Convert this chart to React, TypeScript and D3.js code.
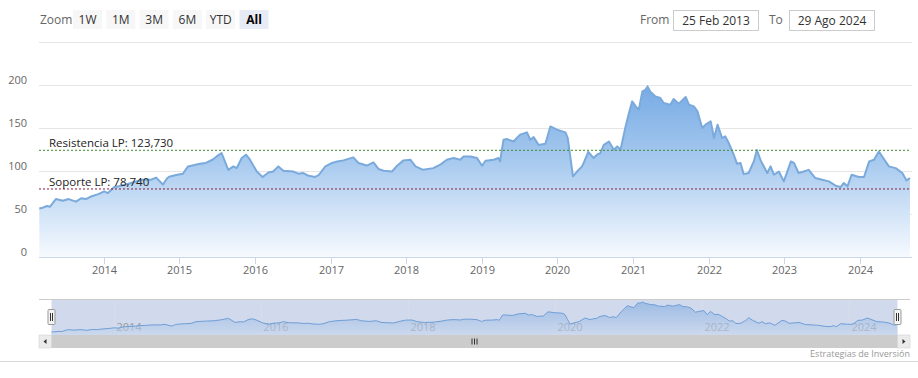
import React from 'react';
import * as d3 from 'd3';

const dates: string[] = [
  '2013-02-25','2013-03-14','2013-04-03','2013-04-17','2013-05-16','2013-06-18','2013-07-17','2013-08-21','2013-09-15','2013-10-08','2013-11-02','2013-12-10',
  '2014-01-04','2014-01-22','2014-02-22','2014-03-16','2014-04-19','2014-06-07','2014-07-09','2014-08-18','2014-09-12','2014-10-15','2014-11-03','2014-11-14','2014-12-17',
  '2015-01-19','2015-02-13','2015-03-22','2015-04-11','2015-05-10','2015-06-13','2015-07-01','2015-07-25','2015-08-26','2015-09-20','2015-10-06','2015-10-30','2015-11-20','2015-12-09',
  '2016-01-11','2016-02-08','2016-03-07','2016-03-30','2016-04-24','2016-05-18','2016-07-06','2016-07-29','2016-08-23','2016-09-17','2016-10-19','2016-11-05','2016-12-07',
  '2017-01-08','2017-02-02','2017-03-04','2017-04-21','2017-05-15','2017-06-25','2017-07-27','2017-08-20','2017-09-14','2017-10-24','2017-11-18','2017-12-19',
  '2018-01-21','2018-02-15','2018-03-24','2018-05-12','2018-06-14','2018-07-16','2018-08-18','2018-09-19','2018-10-05','2018-11-07','2018-12-09',
  '2019-01-02','2019-01-19','2019-02-28','2019-03-22','2019-03-30','2019-04-16','2019-05-02','2019-06-03','2019-07-05','2019-08-07','2019-08-23','2019-09-08','2019-10-02','2019-11-04','2019-11-28','2019-12-30',
  '2020-02-09','2020-02-20','2020-03-03','2020-03-16','2020-04-05','2020-04-29','2020-05-10','2020-05-29','2020-06-24','2020-07-10','2020-07-26','2020-08-12','2020-09-06','2020-09-29','2020-10-16','2020-11-01','2020-11-25','2020-12-11','2020-12-27',
  '2021-01-13','2021-01-28','2021-02-14','2021-03-01','2021-03-11','2021-03-24','2021-04-18','2021-05-12','2021-05-28','2021-06-29','2021-07-15','2021-08-09','2021-09-11','2021-09-27','2021-10-21','2021-11-07','2021-11-30','2021-12-16',
  '2022-01-10','2022-01-26','2022-02-12','2022-03-06','2022-03-21','2022-04-07','2022-05-01','2022-05-17','2022-06-03','2022-06-18','2022-07-12','2022-08-06','2022-08-21','2022-09-08','2022-10-10','2022-10-26','2022-11-11','2022-12-05','2022-12-29',
  '2023-02-01','2023-02-16','2023-03-10','2023-04-04','2023-04-28','2023-05-30','2023-07-02','2023-08-03','2023-09-05','2023-09-29','2023-10-15','2023-11-01','2023-11-21','2023-12-26',
  '2024-01-20','2024-02-14','2024-03-08','2024-04-01','2024-04-25','2024-05-19','2024-06-21','2024-07-23','2024-08-12','2024-08-29',
];

const prices: number[] = [
  56,57,59,58,67,65,67,64,68,67,70,73,
  76,74,81,82,84,87.5,89.5,89.5,92,84,91,93,95,
  96.5,105,107,108,109,113,116.6,120.5,101,105,103,114.7,118.6,112.8,
  99,92.7,98,99,105,100,99,96.5,97.3,94,92.7,95,105,
  109,110.8,112,115.5,109,106,109.6,102,100,99,105.8,112,
  112.8,105,101,103,107,112.8,114.7,112.8,116.6,116.6,114.7,
  105.8,111.6,112.8,114.7,110.8,136,136.8,134,141.9,144.6,136,139,130,131.4,151.5,147.7,
  144.6,138,116.6,93.4,99,105,110.8,122,114.7,118.6,120.5,130,134,124.4,128.3,124.4,151.5,166.7,180.6,
  174.8,171,192.2,194,198,192.2,186.4,184.5,178.7,176.7,183.4,178,185.7,176.7,174.8,169,149.7,153.5,
  157.3,138,153.5,138,140,132.2,118.6,108,109,96,97.3,110.8,124,112,97.3,105,95.3,99,87.6,
  110.8,109,97.3,99,101,91.5,89.5,87.6,82.6,81,85.7,81.7,95.3,92.7,
  92.7,110.8,112.8,122.4,113.6,105,103,97.3,88.7,91.5,
];

const yTicks = [0, 50, 100, 150, 200, 250];
const yearTicks = [2014, 2015, 2016, 2017, 2018, 2019, 2020, 2021, 2022, 2023, 2024];
const navYearTicks = [2014, 2016, 2018, 2020, 2022, 2024];
const zoomButtons = ['1W', '1M', '3M', '6M', 'YTD', 'All'];
const selectedButton = 'All';
const resistance = 123.73;
const support = 78.74;
const resistanceLabel = 'Resistencia LP: 123,730';
const supportLabel = 'Soporte LP: 78,740';
const fromText = '25 Feb 2013';
const toText = '29 Ago 2024';
const creditText = 'Estrategias de Inversión';

const W = 918;
const H = 378;
const FONT = '"Open Sans", "DejaVu Sans", sans-serif';

export default function App() {
  const parse = d3.timeParse('%Y-%m-%d');
  const data = dates.map((d, i) => ({ date: parse(d) as Date, value: prices[i] }));
  const start = data[0].date;
  const end = data[data.length - 1].date;

  const x = d3.scaleTime().domain([start, end]).range([39.3, 910]);
  const y = d3.scaleLinear().domain([0, 250]).range([256.7, 41.7]);

  const nx = d3.scaleTime().domain([start, end]).range([51.5, 897.5]);
  const vmin = d3.min(prices) as number;
  const vmax = d3.max(prices) as number;
  const ny = d3.scaleLinear().domain([vmin, vmax]).range([332, 302]);

  const area = d3.area<any>().x(d => x(d.date)).y0(y(0)).y1(d => y(d.value));
  const line = d3.line<any>().x(d => x(d.date)).y(d => y(d.value));
  const nArea = d3.area<any>().x(d => nx(d.date)).y0(335).y1(d => ny(d.value));
  const nLine = d3.line<any>().x(d => nx(d.date)).y(d => ny(d.value));

  const yearDate = (yr: number) => new Date(yr, 0, 1);

  const btnX0 = 73;
  const btnStep = 33.3;

  return (
    <svg width={W} height={H} style={{ position: 'absolute', left: 0, top: 0, fontFamily: FONT }}>
      <defs>
        <linearGradient id="mainGrad" gradientUnits="userSpaceOnUse" x1="0" y1="85" x2="0" y2="257">
          <stop offset="0" stopColor="rgb(118,170,228)" />
          <stop offset="0.45" stopColor="rgb(168,202,239)" />
          <stop offset="1" stopColor="rgb(246,250,254)" />
        </linearGradient>
        <linearGradient id="navGrad" gradientUnits="userSpaceOnUse" x1="0" y1="300" x2="0" y2="335">
          <stop offset="0" stopColor="rgb(110,160,220)" />
          <stop offset="1" stopColor="rgb(200,215,238)" />
        </linearGradient>
      </defs>
      <rect x={0} y={0} width={W} height={H} fill="#ffffff" />

      {/* toolbar */}
      <text x={40} y={24} fontSize={12} fill="#666">Zoom</text>
      {zoomButtons.map((b, i) => {
        const bx = btnX0 + i * btnStep;
        const sel = b === selectedButton;
        return (
          <g key={b}>
            <rect x={bx} y={10} width={29} height={19} fill={sel ? '#e6ebf5' : '#f7f7f7'} />
            <text x={bx + 14.5} y={24} fontSize={12} textAnchor="middle" fill={sel ? '#000' : '#333'} fontWeight={sel ? 'bold' : 'normal'}>{b}</text>
          </g>
        );
      })}
      <text x={640} y={24} fontSize={12} fill="#666">From</text>
      <rect x={673.5} y={10.5} width={85} height={20} fill="#fff" stroke="#cccccc" />
      <text x={716} y={25} fontSize={12} textAnchor="middle" fill="#333">{fromText}</text>
      <text x={769} y={24} fontSize={12} fill="#666">To</text>
      <rect x={789.5} y={10.5} width={85} height={20} fill="#fff" stroke="#cccccc" />
      <text x={832} y={25} fontSize={12} textAnchor="middle" fill="#333">{toText}</text>

      {/* grid */}
      {yTicks.map(t => (
        <line key={t} x1={39} x2={912} y1={Math.round(y(t)) + 0.5} y2={Math.round(y(t)) + 0.5} stroke={t === 0 ? '#ccd6eb' : '#e6e6e6'} strokeWidth={1} />
      ))}
      {yTicks.filter(t => t < 250).map(t => (
        <text key={t} x={27} y={y(t) - 1} fontSize={11} textAnchor="end" fill="#666">{t}</text>
      ))}

      {/* series */}
      <path d={area(data) as string} fill="url(#mainGrad)" />
      <path d={line(data) as string} fill="none" stroke="#7aaadc" strokeWidth={2} strokeLinejoin="round" />

      {/* plot lines */}
      <line x1={39} x2={910} y1={y(resistance)} y2={y(resistance)} stroke="#3c8a2e" strokeWidth={1} strokeDasharray="2,2" />
      <line x1={39} x2={910} y1={y(support)} y2={y(support)} stroke="#8b1a3a" strokeWidth={1} strokeDasharray="2,2" />
      <text x={49} y={y(resistance) - 3} fontSize={11.5} fill="#222">{resistanceLabel}</text>
      <text x={49} y={y(support) - 3} fontSize={11.5} fill="#222">{supportLabel}</text>

      {/* x axis */}
      {yearTicks.map(yr => {
        const px = Math.round(x(yearDate(yr))) + 0.5;
        return (
          <g key={yr}>
            <line x1={px} x2={px} y1={257} y2={264} stroke="#ccd6eb" />
            <text x={px} y={274} fontSize={11} textAnchor="middle" fill="#666">{yr}</text>
          </g>
        );
      })}

      {/* navigator */}
      <rect x={51.5} y={299} width={846} height={36} fill="rgba(102,133,194,0.3)" />
      {navYearTicks.map(yr => {
        const px = Math.round(nx(yearDate(yr))) + 0.5;
        return (
          <g key={yr}>
            <line x1={px} x2={px} y1={299} y2={335} stroke="#d8dde8" />
            <text x={px + 2} y={331} fontSize={11} fill="#999">{yr}</text>
          </g>
        );
      })}
      <path d={nArea(data) as string} fill="url(#navGrad)" fillOpacity={0.55} />
      <path d={nLine(data) as string} fill="none" stroke="#6f9ed6" strokeWidth={1} />
      <line x1={39} x2={910} y1={299.5} y2={299.5} stroke="#cccccc" />
      {[51.5, 897.5].map((hx, i) => (
        <g key={i}>
          <rect x={hx - 3.5} y={309.5} width={7} height={15} rx={1} fill="#f2f2f2" stroke="#999" />
          <line x1={hx - 1} x2={hx - 1} y1={313} y2={321} stroke="#333" />
          <line x1={hx + 1} x2={hx + 1} y1={313} y2={321} stroke="#333" />
        </g>
      ))}

      {/* scrollbar */}
      <rect x={39} y={335} width={871} height={13} fill="#f2f2f2" />
      <rect x={51.5} y={335} width={846} height={13} fill="#cccccc" />
      <rect x={39} y={335} width={12.5} height={13} fill="#ebebeb" stroke="#cccccc" strokeWidth={0.5} />
      <path d="M 46.5 339 L 46.5 344 L 43.5 341.5 Z" fill="#333" />
      <rect x={897.5} y={335} width={12.5} height={13} fill="#ebebeb" stroke="#cccccc" strokeWidth={0.5} />
      <path d="M 902.5 339 L 902.5 344 L 905.5 341.5 Z" fill="#333" />
      {[-2.5, 0, 2.5].map((o, i) => (
        <line key={i} x1={474.5 + o} x2={474.5 + o} y1={338.5} y2={344.5} stroke="#333" />
      ))}

      {/* footer */}
      <line x1={0} x2={W} y1={361.5} y2={361.5} stroke="#d8d8d8" />
      <text x={910} y={357} fontSize={9} textAnchor="end" fill="#999">{creditText}</text>
    </svg>
  );
}
